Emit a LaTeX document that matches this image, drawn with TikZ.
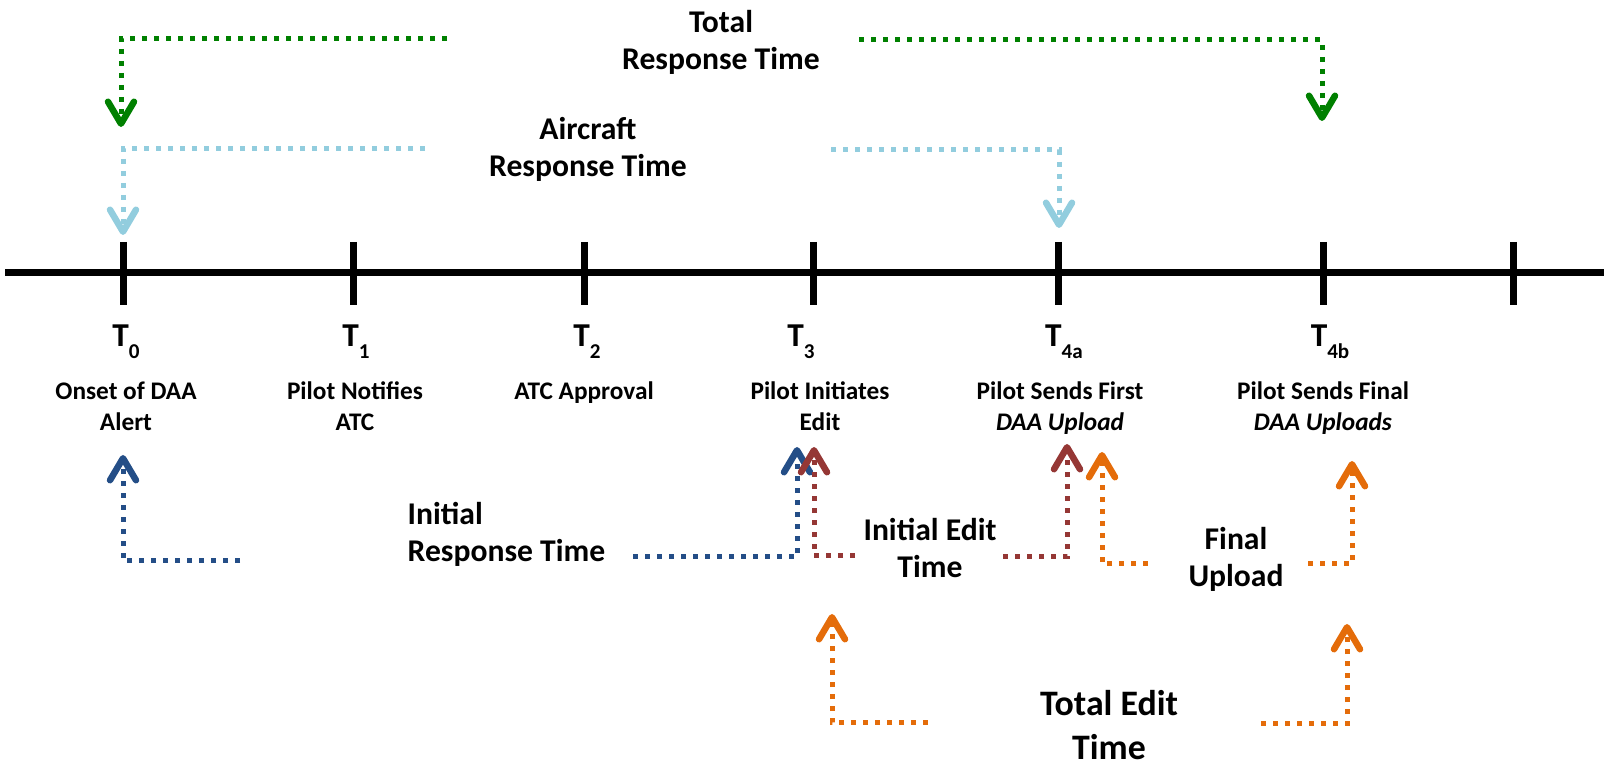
\documentclass[tikz,border=0pt]{standalone}
\usepackage{fontspec}
\setmainfont{Carlito}
\usepackage{tikz}
\usetikzlibrary{arrows.meta}
\usepackage{xcolor}

\definecolor{trtgreen}{RGB}{0,128,0}
\definecolor{artblue}{RGB}{146,205,222}
\definecolor{irtblue}{RGB}{36,78,135}
\definecolor{ietred}{RGB}{149,55,53}
\definecolor{edorange}{RGB}{228,108,10}

\newcommand{\tsub}[1]{\raisebox{-3.4pt}{\fontsize{6}{6}\selectfont #1}}

\tikzset{
    axis/.style={line width=0.7mm},
    span/.style={line width=0.5mm, dash pattern=on 0.5mm off 0.7mm,
        -{Straight Barb[round,length=2.2mm,width=2.6mm,line width=0.65mm]}},
    ttl/.style={font=\fontsize{9}{10.6}\selectfont\bfseries, align=center, anchor=base, inner sep=0pt},
    tname/.style={font=\fontsize{9.5}{10}\selectfont\bfseries, anchor=base, inner sep=0pt},
    evt/.style={font=\fontsize{7.2}{8.9}\selectfont\bfseries, align=center, anchor=base, inner sep=0pt}
}

\begin{document}
\begin{tikzpicture}[x=0.1mm,y=-0.1mm]
    \useasboundingbox (0,0) rectangle (1604,771);

    % time line
    \draw[axis] (5,273) -- (1604,273);
    \foreach \x/\n in {123/t0,353/t1,584/t2,813/t3,1058/t4a,1323/t4b,1513/t5} {
            \draw[axis] (\x,242) -- (\x,305);
            \coordinate (\n) at (\x,273);
        }

    \node[tname] (T0) at (126,347) {T\tsub{0}};
    \node[tname] (T1) at (356,347) {T\tsub{1}};
    \node[tname] (T2) at (587,347) {T\tsub{2}};
    \node[tname] (T3) at (801,347) {T\tsub{3}};
    \node[tname] (T4a) at (1064,347) {T\tsub{4a}};
    \node[tname] (T4b) at (1330,347) {T\tsub{4b}};

    % base of a two line node is its last line
    \node[evt] (e0) at (126,431) {Onset of DAA\\Alert};
    \node[evt] (e1) at (355,431) {Pilot Notifies\\ATC};
    \node[evt] (e2) at (584,400) {ATC Approval};
    \node[evt] (e3) at (820,431) {Pilot Initiates\\Edit};
    \node[evt] (e4a) at (1060,431) {Pilot Sends First\\\textit{DAA Upload}};
    \node[evt] (e4b) at (1323,431) {Pilot Sends Final\\\textit{DAA Uploads}};

    % span labels
    \node[ttl] (trt) at (721,70) {Total\\Response Time};
    \node[ttl] (art) at (588,177) {Aircraft\\Response Time};
    \node[ttl, align=left, anchor=base west] (irt) at (407,562) {Initial\\Response Time};
    \node[ttl] (iet) at (930,578) {Initial Edit\\Time};
    \node[ttl] (fut) at (1236,587) {Final\\Upload};
    \node[ttl, font=\fontsize{10.2}{12.8}\selectfont\bfseries] (tet) at (1109,760) {Total Edit\\Time};

    % span ends
    \coordinate (trtA) at (447,39);
    \coordinate (trtB) at (859,40);
    \coordinate (trt0) at (121,127);
    \coordinate (trt4) at (1322,121);
    \coordinate (artA) at (425,149);
    \coordinate (artB) at (831,150);
    \coordinate (art0) at (123,235);
    \coordinate (art4) at (1059,228);
    \coordinate (irtA) at (240,561);
    \coordinate (irtB) at (633,557);
    \coordinate (irt0) at (123,455);
    \coordinate (irt3) at (797,447);
    \coordinate (ietA) at (855,556);
    \coordinate (ietB) at (1003,557);
    \coordinate (iet3) at (814,447);
    \coordinate (iet4) at (1067,444);
    \coordinate (futA) at (1148,564);
    \coordinate (futB) at (1308,564);
    \coordinate (fut4a) at (1102,452);
    \coordinate (fut4b) at (1352,461);
    \coordinate (tetA) at (928,723);
    \coordinate (tetB) at (1261,724);
    \coordinate (tet3) at (832,614);
    \coordinate (tet4) at (1347,624);

    \draw[span, trtgreen] (trtA) -| (trt0);
    \draw[span, trtgreen] (trtB) -| (trt4);
    \draw[span, artblue] (artA) -| (art0);
    \draw[span, artblue] (artB) -| (art4);
    \draw[span, irtblue] (irtA) -| (irt0);
    \draw[span, irtblue] (irtB) -| (irt3);
    \draw[span, ietred] (ietA) -| (iet3);
    \draw[span, ietred] (ietB) -| (iet4);
    \draw[span, edorange] (futA) -| (fut4a);
    \draw[span, edorange] (futB) -| (fut4b);
    \draw[span, edorange] (tetA) -| (tet3);
    \draw[span, edorange] (tetB) -| (tet4);

\end{tikzpicture}
\end{document}
